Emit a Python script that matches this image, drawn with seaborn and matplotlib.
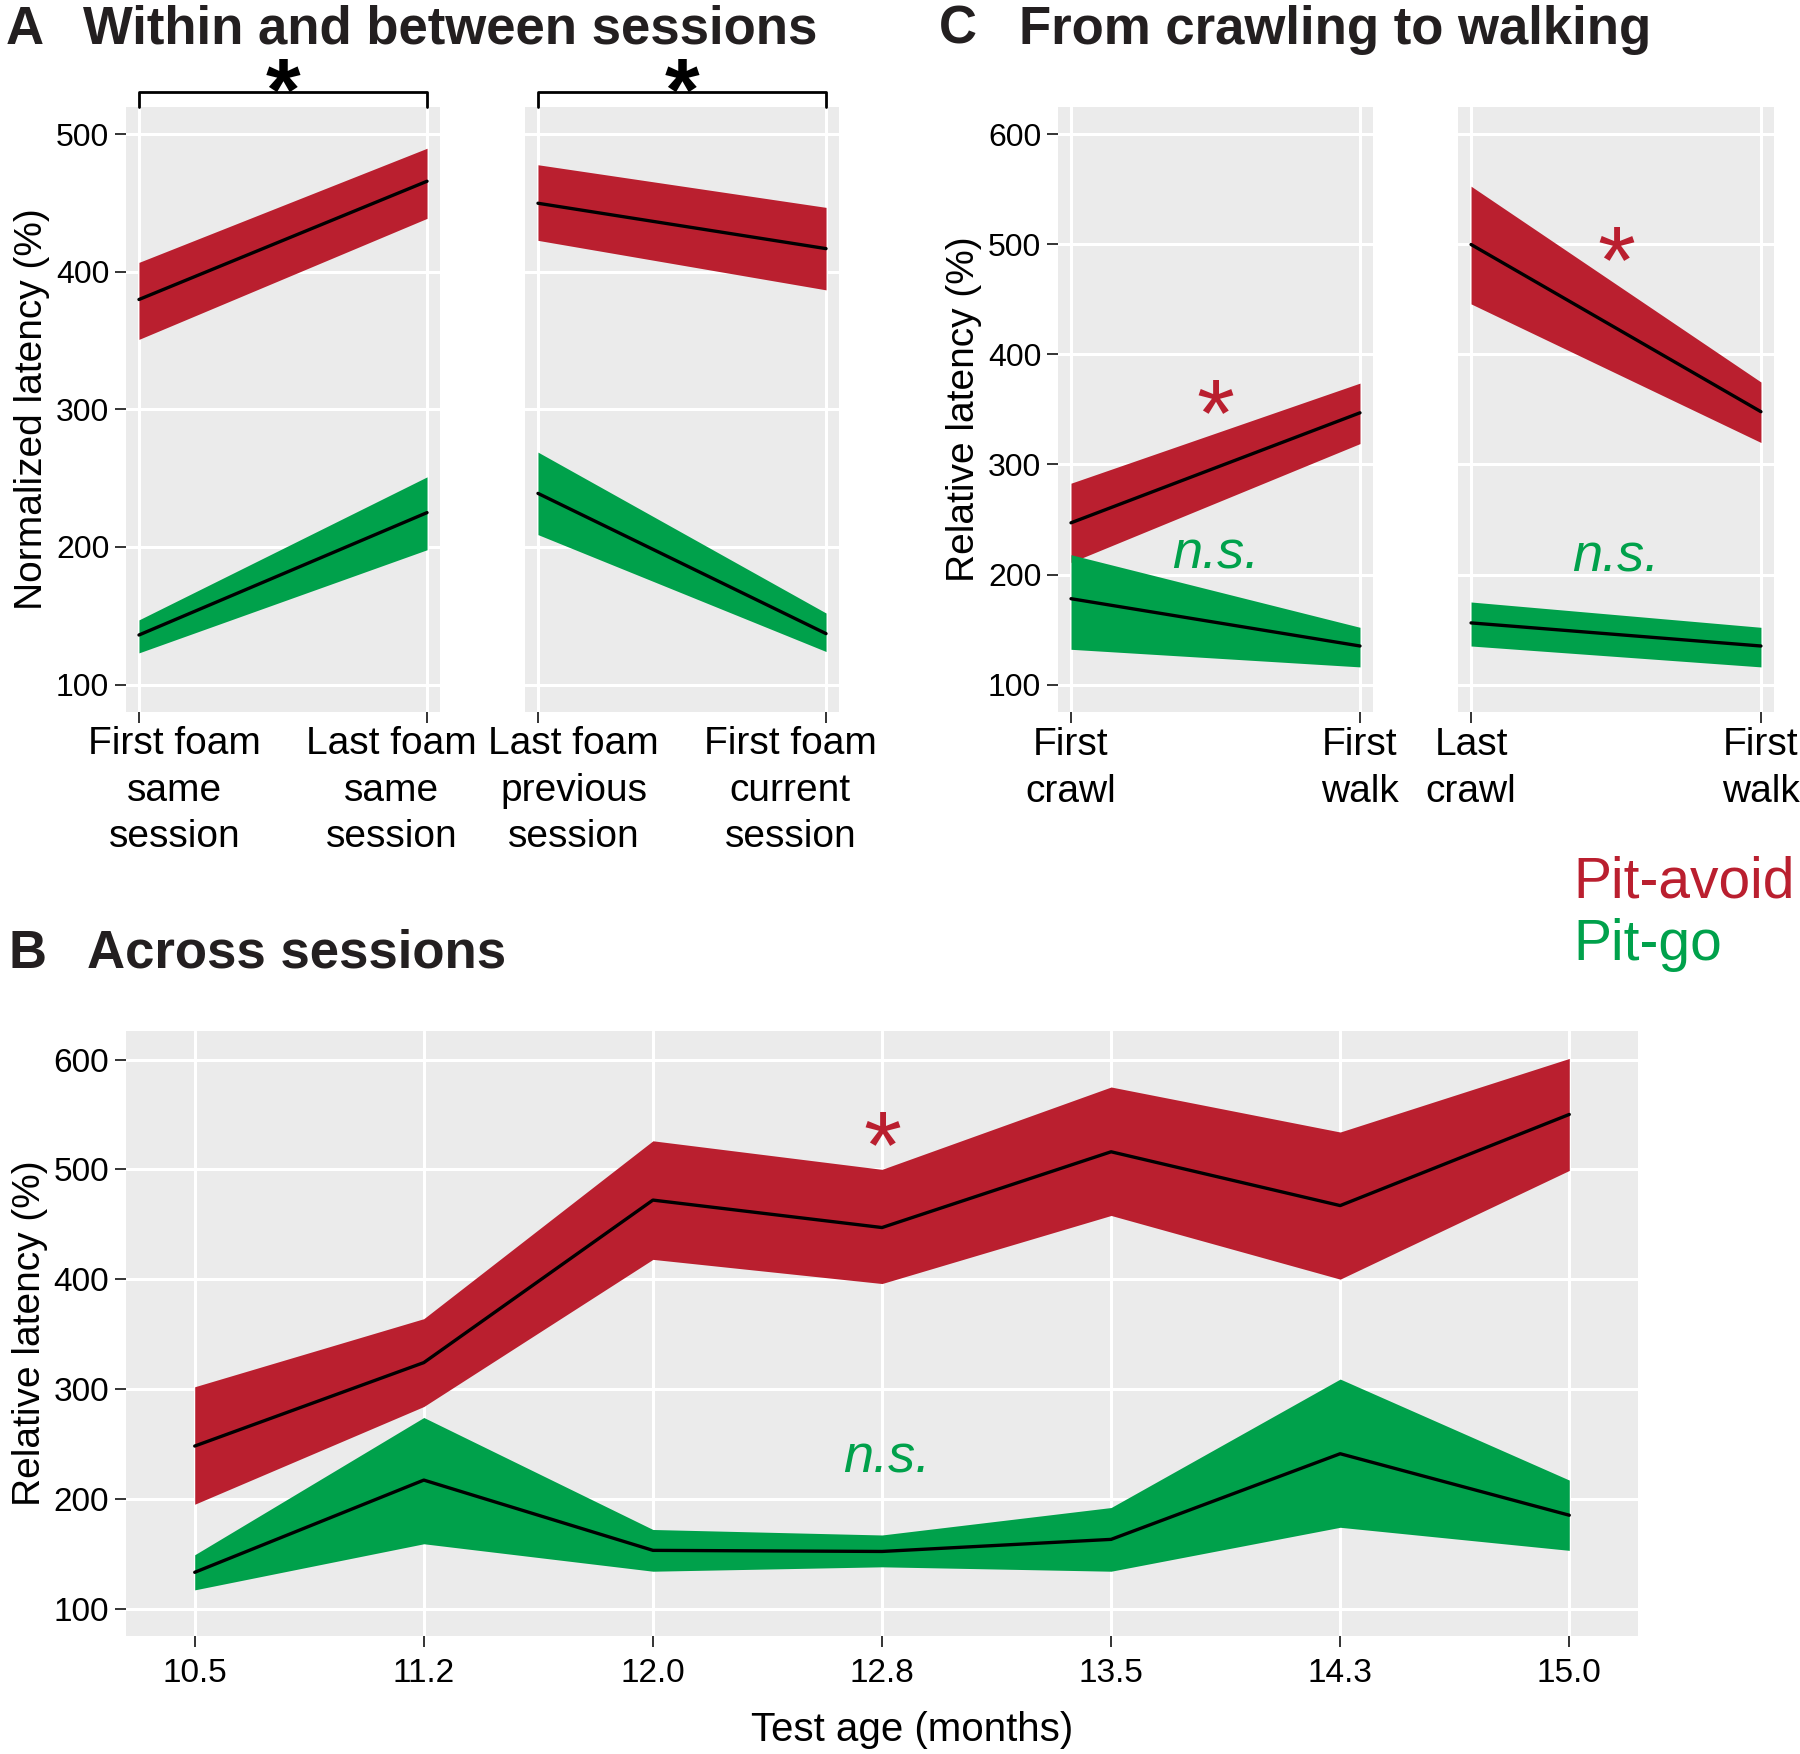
import numpy as np
import pandas as pd
import matplotlib
matplotlib.use("Agg")
import matplotlib.pyplot as plt
import matplotlib.transforms as mtransforms
import seaborn as sns

# ---------------- data ----------------
RED = "#BA1F2F"
GREEN = "#00A14B"

a_left_labels = ["First foam\nsame\nsession", "Last foam\nsame\nsession"]
a_right_labels = ["Last foam\nprevious\nsession", "First foam\ncurrent\nsession"]
a_left_avoid_mean = [380, 466]
a_left_avoid_lo = [351, 439]
a_left_avoid_hi = [407, 490]
a_left_go_mean = [136, 225]
a_left_go_lo = [123, 198]
a_left_go_hi = [147, 251]
a_right_avoid_mean = [450, 417]
a_right_avoid_lo = [423, 387]
a_right_avoid_hi = [478, 447]
a_right_go_mean = [239, 137]
a_right_go_lo = [209, 124]
a_right_go_hi = [269, 152]

c_left_labels = ["First\ncrawl", "First\nwalk"]
c_right_labels = ["Last\ncrawl", "First\nwalk"]
c_left_avoid_mean = [247, 347]
c_left_avoid_lo = [211, 319]
c_left_avoid_hi = [283, 374]
c_left_go_mean = [178, 135]
c_left_go_lo = [132, 116]
c_left_go_hi = [218, 152]
c_right_avoid_mean = [500, 348]
c_right_avoid_lo = [446, 320]
c_right_avoid_hi = [553, 375]
c_right_go_mean = [156, 135]
c_right_go_lo = [135, 116]
c_right_go_hi = [175, 152]

b_ages = ["10.5", "11.2", "12.0", "12.8", "13.5", "14.3", "15.0"]
b_avoid_mean = [248, 324, 472, 447, 516, 467, 550]
b_avoid_lo = [195, 284, 418, 396, 458, 400, 499]
b_avoid_hi = [302, 364, 526, 500, 575, 534, 601]
b_go_mean = [133, 217, 153, 152, 163, 241, 185]
b_go_lo = [117, 159, 134, 138, 134, 174, 153]
b_go_hi = [149, 274, 172, 167, 192, 309, 217]

# ---------------- style ----------------
sns.set_theme(style="darkgrid", rc={"axes.facecolor": "#EBEBEB", "grid.color": "white"})
plt.rcParams["font.family"] = ["Liberation Sans", "DejaVu Sans"]

W, H = 1800, 1754
fig = plt.figure(figsize=(W / 100, H / 100), dpi=100)


def box(x0, x1, y0, y1):
    return [x0 / W, 1 - y1 / H, (x1 - x0) / W, (y1 - y0) / H]


def panel(ax, labels, series, ylim, yticks, show_y, ylabel=None, xlim=(-0.045, 1.045),
          xfs=28, yfs=23, xshift=None):
    xs = np.arange(len(labels))
    for color, mean, lo, hi in series:
        ax.fill_between(xs, lo, hi, color=color, linewidth=0, zorder=2)
    for color, mean, lo, hi in series:
        df = pd.DataFrame({"x": xs, "y": mean})
        sns.lineplot(data=df, x="x", y="y", color="black", linewidth=2.4, ax=ax,
                     legend=False, zorder=3)
    ax.set_xlim(*xlim)
    ax.set_ylim(*ylim)
    ax.set_xticks(xs)
    ax.set_yticks(yticks)
    if xshift is None:
        ax.set_xticklabels(labels, fontsize=xfs, linespacing=1.38)
    else:
        ax.set_xticklabels([""] * len(labels))
        tr = mtransforms.offset_copy(ax.get_xaxis_transform(), fig=fig, y=-14, units="dots")
        for x, lab, dx in zip(xs, labels, xshift):
            ax.text(x + dx, 0, lab, transform=tr, ha="center", va="top",
                    fontsize=xfs, linespacing=1.38, color="black")
    ax.grid(True, color="white", linewidth=2.2)
    ax.set_axisbelow(True)
    for s in ax.spines.values():
        s.set_visible(False)
    ax.tick_params(axis="x", bottom=True, length=8, width=1.4, color="#333333",
                   labelcolor="black", pad=3)
    if show_y:
        ax.set_yticklabels([str(t) for t in yticks], fontsize=yfs)
        ax.tick_params(axis="y", left=True, length=8, width=1.4, color="#333333",
                       labelcolor="black", pad=4)
    else:
        ax.tick_params(axis="y", left=False, labelleft=False)
    ax.set_xlabel("")
    ax.set_ylabel(ylabel if ylabel else "", fontsize=28, color="black")


# Panel A
axA1 = fig.add_axes(box(126, 440, 107, 712))
axA2 = fig.add_axes(box(525, 839, 107, 712))
panel(axA1, a_left_labels,
      [(RED, a_left_avoid_mean, a_left_avoid_lo, a_left_avoid_hi),
       (GREEN, a_left_go_mean, a_left_go_lo, a_left_go_hi)],
      (80, 520), [100, 200, 300, 400, 500], True, "Normalized latency (%)",
      xshift=[0.124, -0.124])
panel(axA2, a_right_labels,
      [(RED, a_right_avoid_mean, a_right_avoid_lo, a_right_avoid_hi),
       (GREEN, a_right_go_mean, a_right_go_lo, a_right_go_hi)],
      (80, 520), [100, 200, 300, 400, 500], False,
      xshift=[0.124, -0.124])

# Panel C
axC1 = fig.add_axes(box(1058, 1373, 107, 712))
axC2 = fig.add_axes(box(1458, 1774, 107, 712))
panel(axC1, c_left_labels,
      [(RED, c_left_avoid_mean, c_left_avoid_lo, c_left_avoid_hi),
       (GREEN, c_left_go_mean, c_left_go_lo, c_left_go_hi)],
      (75, 625), [100, 200, 300, 400, 500, 600], True, "Relative latency (%)")
panel(axC2, c_right_labels,
      [(RED, c_right_avoid_mean, c_right_avoid_lo, c_right_avoid_hi),
       (GREEN, c_right_go_mean, c_right_go_lo, c_right_go_hi)],
      (75, 625), [100, 200, 300, 400, 500, 600], False)

# Panel B
axB = fig.add_axes(box(126, 1638, 1031, 1636))
panel(axB, b_ages,
      [(RED, b_avoid_mean, b_avoid_lo, b_avoid_hi),
       (GREEN, b_go_mean, b_go_lo, b_go_hi)],
      (75, 626), [100, 200, 300, 400, 500, 600], True, "Relative latency (%)",
      xlim=(-0.3, 6.3), xfs=24, yfs=24)
axB.tick_params(axis="x", pad=8)
axB.set_xlabel("Test age (months)", fontsize=29, color="black", labelpad=16)
axB.xaxis.label.set_x(0.52)

# Brackets and significance marks in A
for ax in (axA1, axA2):
    tr = ax.get_xaxis_transform()
    ax.plot([0, 0, 1, 1], [1.0, 1.025, 1.025, 1.0], color="black", lw=2.0,
            transform=tr, clip_on=False)
    ax.text(0.5, 0.978, "*", transform=tr, ha="center", va="baseline",
            fontsize=64, fontweight="bold", color="black", zorder=5)

axC1.text(0.5, 317, "*", ha="center", va="baseline", fontsize=70, color=RED)
axC1.text(0.5, 218, "n.s.", ha="center", va="center", fontsize=39, style="italic", color=GREEN)
axC2.text(0.5, 456, "*", ha="center", va="baseline", fontsize=70, color=RED)
axC2.text(0.5, 215, "n.s.", ha="center", va="center", fontsize=39, style="italic", color=GREEN)
axB.text(3.0, 492, "*", ha="center", va="baseline", fontsize=70, color=RED)
axB.text(3.02, 237, "n.s.", ha="center", va="center", fontsize=39, style="italic", color=GREEN)

# Titles
fig.text(6 / W, 1 - 44 / H, "A", fontsize=38, fontweight="bold", color="#231f20", va="baseline")
fig.text(83 / W, 1 - 44 / H, "Within and between sessions", fontsize=38, fontweight="bold",
         color="#231f20", va="baseline")
fig.text(939 / W, 1 - 44 / H, "C", fontsize=38, fontweight="bold", color="#231f20", va="baseline")
fig.text(1019 / W, 1 - 44 / H, "From crawling to walking", fontsize=38, fontweight="bold",
         color="#231f20", va="baseline")
fig.text(8 / W, 1 - 968 / H, "B", fontsize=38, fontweight="bold", color="#231f20", va="baseline")
fig.text(87 / W, 1 - 968 / H, "Across sessions", fontsize=38, fontweight="bold",
         color="#231f20", va="baseline")

# Legend text
fig.text(1573 / W, 1 - 897 / H, "Pit-avoid", fontsize=41, color=RED, va="baseline")
fig.text(1573 / W, 1 - 960 / H, "Pit-go", fontsize=41, color=GREEN, va="baseline")

fig.savefig("out.png", dpi=100, facecolor="white")
